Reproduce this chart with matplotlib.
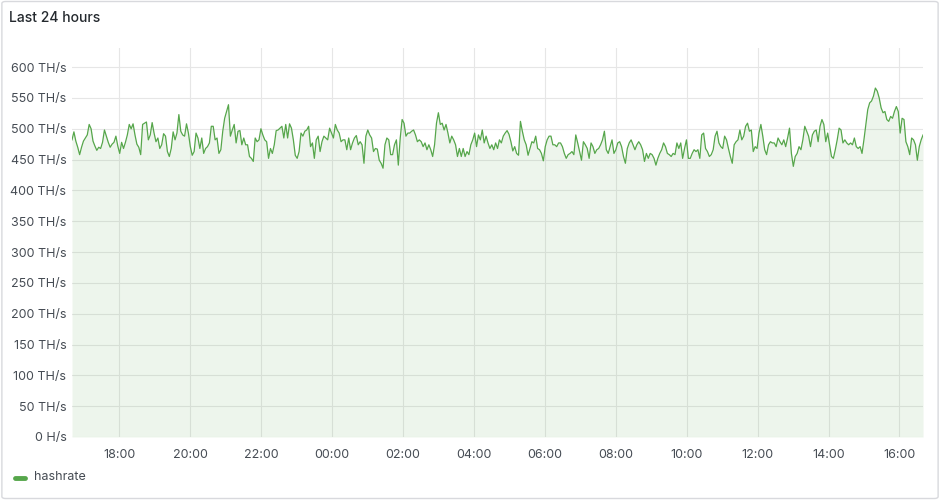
import numpy as np
import pandas as pd
import matplotlib
matplotlib.use('Agg')
import matplotlib.pyplot as plt
import matplotlib.dates as mdates
from matplotlib.patches import FancyBboxPatch

# hashrate, TH/s (16:40 -> 16:40 next day)
hashrate = [
    482, 495, 480, 470, 458, 470, 480, 485, 490, 507, 500, 480, 472, 465, 470, 468, 478, 498,
    488, 478, 470, 475, 478, 488, 472, 460, 478, 468, 478, 490, 507, 500, 508, 490, 475, 470,
    458, 507, 509, 511, 482, 490, 510, 493, 479, 485, 468, 474, 492, 488, 463, 455, 468, 495,
    482, 493, 523, 496, 490, 488, 508, 493, 471, 457, 463, 493, 485, 468, 485, 460, 468, 471,
    477, 504, 504, 482, 485, 460, 466, 496, 517, 528, 539, 488, 498, 507, 477, 496, 497, 474,
    485, 474, 474, 455, 452, 447, 485, 479, 482, 500, 490, 482, 479, 452, 468, 460, 474, 497, 498,
    501, 504, 485, 507, 485, 508, 501, 482, 457, 452, 463, 493, 488, 496, 498, 504, 471, 477,
    452, 482, 488, 463, 479, 488, 485, 482, 501, 493, 485, 507, 498, 493, 479, 482, 482, 466, 485,
    466, 477, 485, 489, 474, 479, 474, 444, 488, 498, 490, 485, 463, 468, 467, 449, 444, 436,
    474, 485, 482, 458, 458, 474, 482, 441, 485, 515, 509, 488, 493, 493, 496, 498, 490, 479, 482,
    479, 471, 477, 466, 474, 466, 455, 474, 509, 526, 507, 509, 498, 507, 493, 477, 488, 482,
    474, 455, 468, 455, 468, 455, 463, 458, 474, 482, 493, 471, 490, 482, 498, 477, 488, 477, 468,
    474, 466, 477, 468, 482, 477, 488, 493, 497, 491, 479, 464, 471, 460, 457, 512, 496, 482,
    474, 457, 468, 479, 477, 488, 468, 466, 460, 448, 471, 482, 488, 488, 474, 474, 471, 477,
    477, 471, 460, 452, 458, 460, 463, 458, 490, 477, 463, 449, 479, 474, 468, 452, 477, 471,
    460, 466, 468, 474, 482, 496, 466, 460, 471, 482, 460, 466, 477, 479, 471, 455, 444, 468, 477, 482,
    474, 466, 474, 479, 474, 466, 447, 460, 452, 460, 458, 452, 441, 452, 460, 466, 477, 471,
    460, 458, 455, 460, 458, 477, 468, 477, 452, 468, 482, 452, 452, 460, 466, 463, 466, 452, 490,
    493, 468, 463, 455, 458, 466, 488, 496, 477, 471, 468, 488, 482, 468, 455, 444, 474, 479,
    482, 498, 482, 488, 504, 509, 496, 498, 463, 471, 468, 493, 507, 488, 466, 458, 474, 479, 477,
    477, 471, 485, 479, 474, 482, 471, 485, 501, 460, 439, 455, 460, 471, 466, 482, 504, 496,
    488, 471, 490, 496, 498, 479, 504, 515, 507, 479, 493, 474, 455, 452, 466, 482, 501, 498, 477, 482,
    477, 474, 477, 474, 485, 471, 468, 471, 460, 482, 507, 531, 542, 545, 553, 566, 561, 550,
    534, 526, 528, 515, 512, 520, 517, 528, 536, 528, 493, 517, 515, 479, 471, 458, 485, 482,
    474, 449, 471, 482, 490,
]
start = '2024-01-01 16:40'
end = '2024-01-02 16:40'
y_ticks = [0, 50, 100, 150, 200, 250, 300, 350, 400, 450, 500, 550, 600]
y_labels = ['0 H/s'] + ['%d TH/s' % v for v in y_ticks[1:]]

GREEN = '#56a64b'
TEXT = '#464c54'
GRID = '#e6e6e6'

plt.rcParams['font.family'] = ['Inter', 'DejaVu Sans']

times = pd.date_range(start, end, periods=len(hashrate))

fig = plt.figure(figsize=(9.4, 5.0), dpi=100)
fig.patch.set_facecolor('white')
fig.patches.append(FancyBboxPatch((0.002, 0.003), 0.996, 0.994, boxstyle='round,pad=0,rounding_size=0.004',
                                  transform=fig.transFigure, fc='none', ec='#d8d9dd', lw=1))

ax = fig.add_axes([0.0766, 0.126, 0.9054, 0.778])
ax.plot(times, hashrate, color=GREEN, lw=0.9)
ax.fill_between(times, hashrate, 0, color=GREEN, alpha=0.1, lw=0)

ax.set_xlim(times[0], times[-1])
ax.set_ylim(0, 631)
ax.set_yticks(y_ticks)
ax.set_yticklabels(y_labels)
ax.xaxis.set_major_locator(mdates.HourLocator(byhour=range(0, 24, 2)))
ax.xaxis.set_major_formatter(mdates.DateFormatter('%H:%M'))

for s in ax.spines.values():
    s.set_visible(False)
ax.grid(True, color=GRID, lw=0.8)
ax.set_axisbelow(True)
ax.tick_params(length=0, labelsize=9, colors=TEXT)
ax.tick_params(axis='x', pad=9)
ax.tick_params(axis='y', pad=4)

fig.text(0.0096, 0.964, 'Last 24 hours', fontsize=10, fontweight='medium', color='#24292e', va='center')
fig.add_artist(plt.Line2D([0.016, 0.027], [0.045, 0.045], transform=fig.transFigure,
                          color=GREEN, lw=3.5, solid_capstyle='round'))
fig.text(0.036, 0.045, 'hashrate', fontsize=9, color=TEXT, va='center')

fig.savefig('out.png', dpi=100)
